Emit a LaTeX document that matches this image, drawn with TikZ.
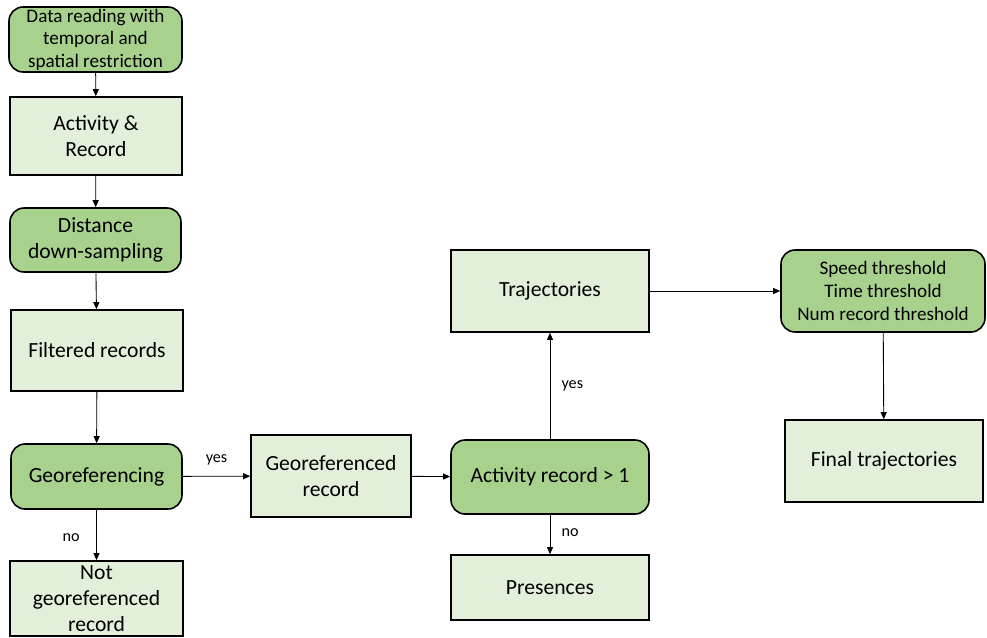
\documentclass[tikz,border=0pt]{standalone}
\usepackage{fontspec}
\setmainfont{Carlito}
\usetikzlibrary{arrows.meta}
\definecolor{stepgreen}{HTML}{A9D18E}
\definecolor{datagreen}{HTML}{E2EFDA}

\begin{document}
\begin{tikzpicture}[x=0.02cm,y=-0.02cm,>={Triangle[length=4pt,width=3.4pt]},
  proc/.style={draw,line width=0.9pt,rounded corners=8pt,fill=stepgreen,align=center,inner sep=0pt},
  result/.style={draw,line width=0.9pt,fill=datagreen,align=center,inner sep=0pt},
  big/.style={font=\fontsize{12.3}{14.8}\selectfont},
  flow/.style={->,line width=0.5pt},
  lab/.style={font=\fontsize{9.2}{10}\selectfont}]
\useasboundingbox (0,0) rectangle (987,637);
% left column
\node[proc,minimum width=173*0.02cm,minimum height=65*0.02cm,font=\fontsize{10.9}{12.8}\selectfont] (read) at (95.5,39.5) {Data reading with\\temporal and\\spatial restriction};
\node[result,big,minimum width=172*0.02cm,minimum height=78*0.02cm] (act) at (96,136) {Activity \&\\Record};
\node[proc,big,minimum width=171*0.02cm,minimum height=64*0.02cm] (dist) at (95.5,240) {Distance\\down-sampling};
\node[result,big,minimum width=172*0.02cm,minimum height=81*0.02cm] (filt) at (97,350.5) {Filtered records};
\node[proc,big,minimum width=171*0.02cm,minimum height=65*0.02cm] (geo) at (96.5,476.5) {Georeferencing};
\node[result,big,minimum width=173*0.02cm,minimum height=75*0.02cm] (notgeo) at (96.5,598.5) {Not\\georeferenced\\record};
% middle
\node[result,big,minimum width=160*0.02cm,minimum height=82*0.02cm] (georec) at (331,476) {Georeferenced\\record};
\node[proc,big,minimum width=198*0.02cm,minimum height=74*0.02cm] (cnt) at (550,477) {Activity record > 1};
\node[result,big,minimum width=198*0.02cm,minimum height=65*0.02cm] (pres) at (550,587.5) {Presences};
\node[result,big,minimum width=198*0.02cm,minimum height=82*0.02cm] (traj) at (550,291) {Trajectories};
% right
\node[proc,minimum width=204*0.02cm,minimum height=82*0.02cm,font=\fontsize{10.9}{13}\selectfont] (thr) at (883,291) {Speed threshold\\Time threshold\\Num record threshold};
\node[result,big,minimum width=198*0.02cm,minimum height=82*0.02cm] (final) at (884,461) {Final trajectories};

\draw[flow] (read) -- (act);
\draw[flow] (act) -- (dist);
\draw[flow] (dist) -- (filt);
\draw[flow] (filt) -- (geo);
\draw[flow] (geo) -- node[lab,left=6pt,pos=0.55]{no} (notgeo);
\draw[flow] (geo) -- node[lab,above=3pt,pos=0.5]{yes} (georec);
\draw[flow] (georec) -- (cnt);
\draw[flow] (cnt) -- node[lab,right=3pt]{yes} (traj);
\draw[flow] (cnt) -- node[lab,right=3pt,pos=0.45]{no} (pres);
\draw[flow] (traj) -- (thr);
\draw[flow] (thr) -- (final);
\end{tikzpicture}
\end{document}
